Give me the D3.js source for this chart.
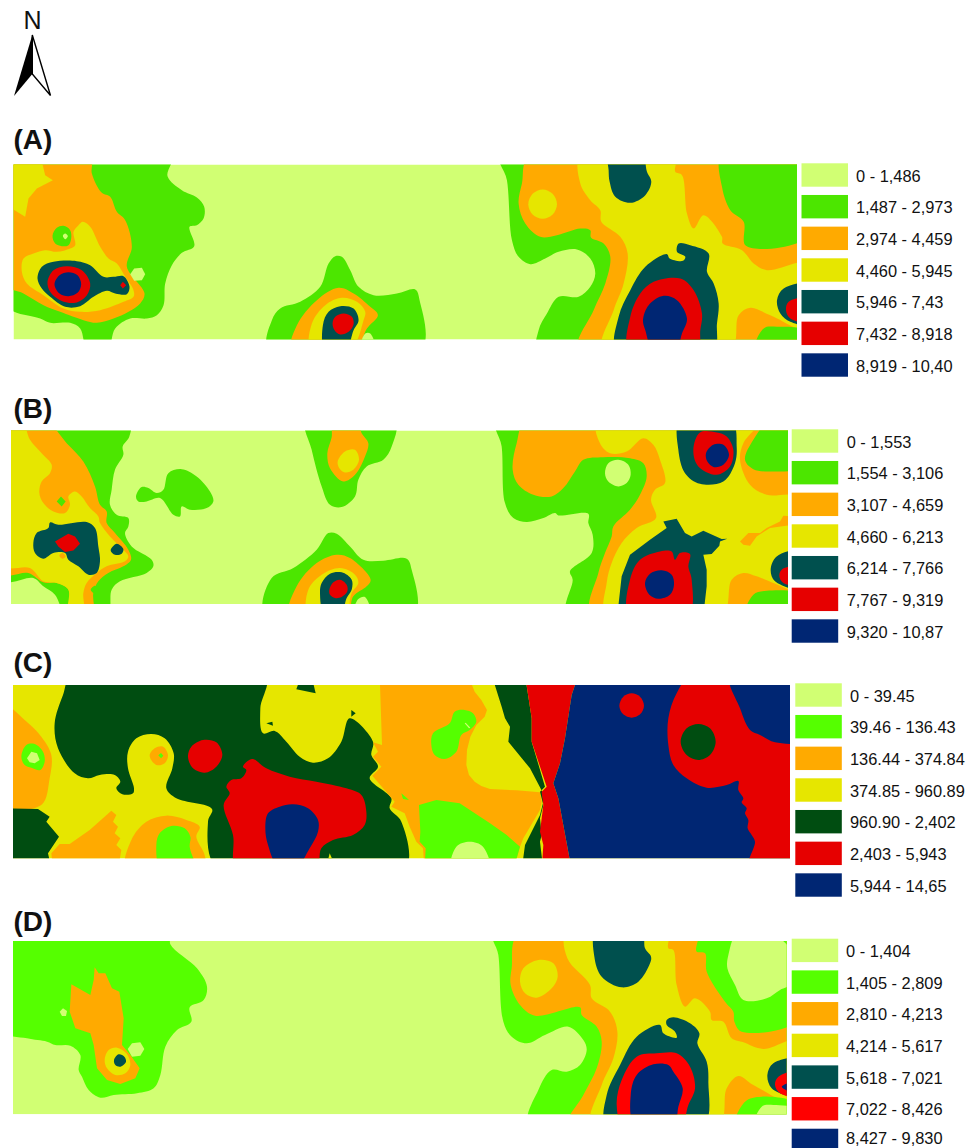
<!DOCTYPE html>
<html>
<head>
<meta charset="utf-8">
<script src="https://cdn.jsdelivr.net/npm/d3@7"></script>
<style>
html, body { margin: 0; background: #fff; overflow: hidden; }
text { font-family: "Liberation Sans", Arial, sans-serif; fill: #111; }
</style>
</head>
<body>
<svg id="canvas"></svg>
<script>
const width = 978;
const height = 1148;

// legend classes
const classesA = ["0 - 1,486", "1,487 - 2,973", "2,974 - 4,459", "4,460 - 5,945", "5,946 - 7,43", "7,432 - 8,918", "8,919 - 10,40"];
const classesB = ["0 - 1,553", "1,554 - 3,106", "3,107 - 4,659", "4,660 - 6,213", "6,214 - 7,766", "7,767 - 9,319", "9,320 - 10,87"];
const classesC = ["0 - 39.45", "39.46 - 136.43", "136.44 - 374.84", "374.85 - 960.89", "960.90 - 2,402", "2,403 - 5,943", "5,944 - 14,65"];
const classesD = ["0 - 1,404", "1,405 - 2,809", "2,810 - 4,213", "4,214 - 5,617", "5,618 - 7,021", "7,022 - 8,426", "8,427 - 9,830"];

const paletteAB = ["#d1ff73", "#4ce600", "#ffaa00", "#e6e600", "#00504e", "#e60000", "#002673"];
const paletteC = ["#d1ff73", "#55ff00", "#ffaa00", "#e6e600", "#004d11", "#e60000", "#002673"];
const paletteD = ["#d1ff73", "#55ff00", "#ffaa00", "#e6e600", "#00504e", "#ff0000", "#002673"];

// class zones: [class index, outline in map units, straight edges?]. Painted in order, later on top.
const zonesA = [
  [1, [[0,0],[475,0],[462,35],[505,77],[550,99],[572,127],[570,162],[550,182],[528,187],[542,245],[505,265],[475,302],[455,357],[450,422],[430,452],[400,462],[350,462],[305,492],[282,525],[222,525],[200,492],[170,475],[110,475],[80,462],[0,417]]],
  [2, [[0,0],[232,0],[235,27],[265,85],[290,97],[310,142],[335,167],[355,247],[340,307],[393,387],[380,417],[345,442],[300,462],[250,475],[210,467],[140,442],[90,422],[30,387],[0,357]]],
  [3, [[0,0],[80,0],[95,32],[118,47],[70,72],[45,102],[35,157],[0,117]], true],
  [3, [[208,172],[230,187],[260,247],[285,282],[310,297],[335,337],[360,377],[360,397],[330,412],[260,437],[200,442],[150,432],[90,392],[40,357],[25,322],[30,282],[60,267],[95,257],[130,262],[170,252],[185,242],[180,202],[195,182]]],
  [1, [[117,214],[130,190],[150,184],[170,197],[173,222],[165,242],[145,245],[125,237]]],
  [0, [[148,214],[155,207],[163,215],[155,224]]],
  [0, [[350,329],[362,312],[385,310],[395,329],[385,347],[362,349]], true],
  [4, [[72,342],[85,307],[120,292],[190,290],[230,302],[270,337],[300,337],[330,335],[348,367],[340,389],[305,387],[280,379],[240,397],[200,425],[155,427],[110,397],[85,372]]],
  [5, [[102,352],[120,317],[160,305],[205,317],[230,357],[220,392],[185,415],[140,407],[110,382]]],
  [6, [[123,359],[138,332],[165,323],[192,332],[203,359],[192,385],[165,395],[138,387]]],
  [5, [[320,362],[328,352],[338,362],[328,372]], true],
  [1, [[765,525],[775,467],[800,432],[860,412],[920,367],[945,297],[965,275],[985,277],[1010,317],[1035,367],[1080,392],[1150,387],[1205,375],[1218,407],[1223,525]]],
  [2, [[835,525],[850,482],[910,407],[975,370],[1020,387],[1070,427],[1093,452],[1060,492],[1025,525]]],
  [3, [[892,525],[895,477],[935,422],[985,400],[1030,412],[1055,442],[1050,467],[1010,525]]],
  [4, [[935,530],[928,482],[945,442],[980,425],[1020,432],[1035,467],[1020,497],[995,530]]],
  [5, [[957,477],[965,457],[990,447],[1015,457],[1020,479],[1005,502],[980,510],[963,497]]],
  [0, [[1040,530],[1055,507],[1070,507],[1085,530]]],
  [1, [[1460,0],[1480,47],[1495,227],[1515,277],[1550,299],[1595,282],[1635,262],[1690,255],[1730,282],[1745,327],[1730,367],[1695,397],[1635,397],[1600,447],[1575,497],[1575,530],[2360,530],[2360,0]]],
  [2, [[1550,0],[1525,57],[1515,117],[1535,177],[1580,217],[1630,212],[1700,192],[1730,197],[1732,219],[1770,237],[1790,277],[1775,357],[1740,437],[1695,530],[2360,530],[2360,0]]],
  [1, [[2125,0],[2125,67],[2150,137],[2190,172],[2197,244],[2360,212],[2360,0]]],
  [3, [[1702,0],[1700,57],[1730,107],[1760,137],[1763,172],[1820,217],[1842,267],[1830,357],[1800,437],[1767,530],[2150,530],[2175,452],[2210,430],[2270,452],[2360,497],[2360,297],[2260,317],[2220,297],[2185,257],[2127,237],[2125,217],[2070,152],[2040,192],[2020,147],[2005,32],[1985,22],[1985,0]]],
  [3, [[1544,119],[1557,88],[1587,75],[1617,88],[1630,119],[1617,150],[1587,163],[1557,150]]],
  [1, [[2225,530],[2250,492],[2290,487],[2360,502],[2360,530]]],
  [0, [[2335,530],[2360,505],[2360,530]], true],
  [4, [[1785,0],[1785,17],[1788,52],[1805,97],[1850,115],[1895,92],[1913,52],[1900,22],[1885,0]]],
  [4, [[1810,530],[1815,457],[1850,377],[1895,307],[1960,269],[1968,282],[2008,289],[2015,277],[1990,262],[1995,237],[2030,242],[2085,267],[2080,322],[2100,357],[2115,417],[2110,477],[2098,530]]],
  [5, [[1847,530],[1850,457],[1880,387],[1920,352],[2000,342],[2040,377],[2065,447],[2060,497],[2050,530]]],
  [6, [[1888,467],[1905,422],[1950,394],[1990,407],[2020,462],[2005,507],[1985,530],[1920,530],[1895,497]]],
  [4, [[2360,360],[2310,372],[2290,407],[2300,447],[2330,472],[2360,479]]],
  [5, [[2360,402],[2325,412],[2317,437],[2330,462],[2360,472]]],
  [6, [[2360,437],[2342,445],[2360,455]], true]
];

const zonesB = [
  [1, [[0,0],[355,0],[355,18],[335,48],[337,73],[312,118],[302,178],[297,223],[317,253],[352,263],[352,288],[342,308],[362,348],[422,388],[427,408],[407,428],[327,453],[302,478],[289,525],[167,525],[132,493],[97,468],[67,443],[0,450]]],
  [2, [[0,0],[102,0],[167,38],[217,93],[252,168],[267,223],[287,243],[287,278],[312,308],[352,358],[360,388],[337,408],[292,428],[262,453],[247,488],[245,525],[177,525],[172,478],[137,458],[97,456],[52,428],[0,430]]],
  [3, [[0,0],[32,0],[57,28],[92,68],[122,103],[117,128],[92,153],[85,188],[97,218],[127,243],[162,248],[177,223],[172,198],[192,183],[212,198],[237,233],[262,258],[267,278],[297,318],[337,358],[352,378],[342,393],[287,408],[257,428],[227,458],[217,488],[217,525],[172,525],[172,478],[137,458],[97,453],[57,413],[0,405]]],
  [1, [[137,213],[150,198],[164,213],[152,228]], true],
  [1, [[239,478],[252,466],[262,478],[252,490]]],
  [4, [[67,338],[77,308],[112,293],[117,276],[142,283],[227,275],[252,293],[262,348],[267,393],[257,428],[232,433],[202,408],[172,388],[162,368],[127,368],[97,385],[72,368]]],
  [5, [[132,333],[172,310],[192,318],[207,340],[187,360],[162,365],[142,348]], true],
  [2, [[145,376],[154,368],[164,378],[154,385]]],
  [4, [[299,360],[317,340],[337,356],[332,370],[312,373]]],
  [1, [[375,198],[392,170],[412,173],[437,188],[457,178],[472,128],[512,116],[557,138],[597,183],[607,213],[587,233],[537,238],[512,228],[507,258],[487,253],[447,203],[407,213],[382,213]]],
  [1, [[885,0],[1152,0],[1142,48],[1117,88],[1067,108],[1042,148],[1032,198],[992,230],[957,223],[932,168],[902,58]]],
  [2, [[967,0],[962,20],[949,68],[957,113],[997,153],[1032,133],[1062,78],[1072,38],[1052,8],[1037,0]]],
  [3, [[980,93],[1002,63],[1032,58],[1044,88],[1027,118],[1002,126],[985,113]]],
  [1, [[762,525],[782,443],[847,413],[917,358],[952,308],[977,310],[1017,348],[1057,388],[1117,391],[1187,385],[1202,418],[1209,525]]],
  [2, [[835,525],[857,468],[917,398],[977,373],[1017,383],[1079,448],[1067,468],[1027,498],[1007,525]]],
  [3, [[892,525],[892,478],[932,433],[987,413],[1032,433],[1042,458],[1022,488],[1002,525]]],
  [4, [[942,530],[927,488],[932,458],[957,430],[992,426],[1022,448],[1022,478],[1007,503],[987,530]]],
  [5, [[955,478],[967,456],[987,448],[1007,463],[1009,483],[992,500],[972,503],[957,493]]],
  [0, [[1027,530],[1042,506],[1062,500],[1079,530]]],
  [1, [[1457,0],[1472,48],[1482,218],[1507,263],[1547,275],[1597,263],[1632,248],[1642,255],[1732,250],[1732,278],[1745,313],[1742,368],[1677,423],[1685,448],[1669,530],[2340,530],[2340,0]]],
  [2, [[1547,0],[1517,38],[1505,118],[1522,163],[1567,193],[1622,198],[1657,173],[1692,123],[1717,88],[1777,80],[1857,83],[1897,98],[1907,138],[1887,193],[1857,238],[1807,288],[1802,318],[1782,368],[1762,428],[1742,530],[2340,530],[2340,0]]],
  [3, [[1759,0],[1767,38],[1797,68],[1847,63],[1897,23],[1927,43],[1947,88],[1962,158],[1932,178],[1920,208],[1935,263],[1877,293],[1832,338],[1802,398],[1787,458],[1787,530],[2132,530],[2162,448],[2197,428],[2237,438],[2332,488],[2340,488],[2340,203],[2267,193],[2217,163],[2187,88],[2197,38],[2242,0]]],
  [1, [[2202,88],[2227,28],[2277,0],[2340,0],[2340,108],[2287,123],[2227,116]]],
  [2, [[2187,333],[2212,308],[2247,308],[2267,293],[2307,273],[2317,256],[2340,258],[2340,280],[2277,293],[2237,318],[2217,346],[2197,343]], true],
  [0, [[1782,128],[1792,98],[1822,88],[1852,103],[1859,133],[1847,158],[1822,168],[1792,153]]],
  [4, [[2007,0],[2002,58],[2022,128],[2067,160],[2137,153],[2172,98],[2177,48],[2162,0]]],
  [5, [[2067,6],[2047,58],[2062,108],[2117,133],[2157,108],[2167,58],[2147,18],[2117,6]]],
  [6, [[2085,68],[2107,43],[2137,43],[2154,73],[2137,103],[2109,110],[2089,93]]],
  [4, [[1819,525],[1832,438],[1857,373],[1917,328],[1967,293],[1957,273],[1997,265],[2022,308],[2042,318],[2077,301],[2132,326],[2149,325],[2127,333],[2125,346],[2102,371],[2077,373],[2087,418],[2087,468],[2077,525]], true],
  [5, [[1855,525],[1857,448],[1887,388],[1947,363],[1982,363],[1992,388],[2007,368],[2037,371],[2032,408],[2042,448],[2032,525]]],
  [6, [[1902,458],[1917,430],[1952,420],[1982,433],[1989,463],[1977,493],[1942,505],[1915,493]]],
  [4, [[2340,363],[2297,378],[2279,418],[2292,453],[2340,473]]],
  [5, [[2340,408],[2312,418],[2305,438],[2317,458],[2340,463]]],
  [1, [[2205,525],[2227,493],[2267,481],[2340,493],[2340,525]]],
  [0, [[2312,525],[2340,501],[2340,525]], true]
];

const zonesC = [
  [3, [[0,0],[2340,0],[2340,525],[0,525]], true],
  [4, [[178,0],[150,30],[125,115],[135,190],[185,265],[225,280],[260,270],[305,270],[322,290],[310,310],[328,328],[360,325],[363,310],[345,250],[345,200],[370,160],[415,147],[455,160],[482,205],[478,250],[460,310],[490,340],[597,372],[585,410],[615,525],[1175,525],[1165,410],[1130,370],[1135,340],[1070,280],[1095,245],[1075,210],[1080,170],[1010,100],[985,170],[945,220],[900,233],[860,215],[820,170],[785,138],[750,145],[742,70],[757,0]]],
  [2, [[0,60],[35,105],[85,155],[115,210],[110,280],[85,360],[0,360]]],
  [1, [[25,215],[40,180],[65,177],[90,200],[95,230],[82,255],[55,248],[35,240]]],
  [0, [[42,220],[55,200],[72,205],[80,225],[65,235],[50,232]], true],
  [4, [[0,370],[75,372],[110,395],[100,410],[138,455],[105,505],[115,520],[115,525],[0,525]], true],
  [2, [[120,525],[115,505],[140,477],[170,477],[230,435],[295,377],[310,390],[300,410],[315,425],[305,445],[322,460],[310,480],[325,495],[315,525]], true],
  [2, [[340,525],[355,465],[400,410],[460,392],[520,405],[560,425],[550,455],[575,510],[575,525]]],
  [1, [[430,480],[440,445],[475,423],[515,430],[532,455],[530,485],[545,525],[445,525]]],
  [2, [[410,212],[425,190],[450,185],[465,210],[455,235],[430,240]]],
  [1, [[436,211],[444,204],[451,212],[444,220]], true],
  [5, [[525,215],[535,185],[570,165],[610,172],[628,210],[610,245],[575,263],[540,250]]],
  [5, [[717,222],[760,250],[830,275],[910,290],[1000,310],[1045,330],[1060,380],[1055,420],[1020,450],[960,465],[925,490],[908,525],[672,525],[660,450],[632,360],[650,325],[640,305],[655,285],[685,280],[700,255],[690,245]]],
  [6, [[757,430],[765,385],[800,365],[840,358],[885,370],[915,405],[915,440],[890,490],[845,525],[800,525],[765,480]]],
  [3, [[938,525],[950,505],[972,525]], true],
  [4, [[850,13],[865,0],[895,0],[908,25]], true],
  [4, [[760,115],[778,110],[780,122]], true],
  [4, [[1015,75],[1028,85],[1015,95]], true],
  [2, [[1100,0],[1365,0],[1385,20],[1405,45],[1422,75],[1415,95],[1390,120],[1372,155],[1362,195],[1360,240],[1368,270],[1385,290],[1405,303],[1431,312],[1510,316],[1581,322],[1586,350],[1581,375],[1531,460],[1521,485],[1501,525],[1235,525],[1230,490],[1210,470],[1190,425],[1175,385],[1135,365],[1145,350],[1078,272],[1105,245],[1080,215],[1095,200],[1080,172],[1107,180]], true],
  [1, [[1218,360],[1270,345],[1340,355],[1431,415],[1481,450],[1521,485],[1501,525],[1235,525],[1238,490],[1220,470],[1222,440]], true],
  [0, [[1315,530],[1330,485],[1370,470],[1410,485],[1430,530]]],
  [1, [[1255,180],[1260,145],[1310,115],[1325,80],[1355,75],[1380,85],[1390,110],[1370,135],[1345,150],[1330,200],[1295,222],[1265,210]]],
  [0, [[1355,115],[1358,113],[1372,128],[1368,130]], true],
  [1, [[1165,325],[1188,345],[1170,342]], true],
  [4, [[1436,0],[1536,0],[1556,100],[1556,170],[1596,305],[1581,320],[1591,360],[1581,400],[1586,450],[1581,470],[1591,525],[1526,525],[1536,480],[1581,390],[1591,350],[1588,320],[1551,250],[1486,170],[1491,125],[1476,100],[1466,65]], true],
  [5, [[1536,0],[1696,0],[1676,30],[1656,160],[1641,235],[1621,295],[1636,340],[1676,525],[1586,525],[1591,480],[1581,440],[1586,400],[1591,360],[1586,320],[1601,305],[1556,170],[1556,100]], true],
  [6, [[1696,0],[2340,0],[2340,525],[1676,525],[1636,340],[1621,295],[1641,235],[1656,160],[1676,30]], true],
  [5, [[2036,0],[1991,25],[1966,100],[1966,180],[1981,240],[2021,280],[2081,308],[2141,300],[2176,288],[2176,315],[2191,340],[2186,352],[2201,370],[2196,385],[2206,405],[2204,430],[2216,450],[2226,470],[2206,525],[2340,525],[2340,0]]],
  [6, [[2151,0],[2181,70],[2211,135],[2241,150],[2286,172],[2340,165],[2340,0]]],
  [5, [[1819,62],[1831,35],[1856,25],[1881,35],[1893,62],[1881,88],[1856,98],[1831,88]]],
  [4, [[2003,170],[2021,130],[2056,117],[2091,130],[2108,170],[2091,210],[2056,225],[2021,210]]]
];

const zonesD = [
  [1, [[0,0],[472,0],[472,10],[552,82],[582,137],[572,177],[530,199],[535,242],[492,267],[457,317],[442,402],[422,442],[372,457],[302,462],[262,470],[227,447],[207,407],[197,387],[202,342],[172,314],[127,312],[102,302],[42,292],[0,270]]],
  [2, [[245,79],[257,97],[277,97],[297,142],[319,152],[332,232],[327,312],[352,342],[380,382],[367,412],[322,429],[282,417],[252,382],[242,312],[232,277],[187,262],[170,212],[175,130],[232,162],[242,117]], true],
  [0, [[344,324],[357,307],[382,304],[394,324],[382,344],[357,347]], true],
  [0, [[140,212],[150,202],[162,210],[159,225],[147,225]], true],
  [3, [[275,357],[287,327],[312,320],[340,337],[352,372],[337,397],[307,402],[282,382]]],
  [4, [[303,357],[317,340],[334,347],[339,362],[322,377],[307,372]]],
  [1, [[1441,0],[1456,42],[1471,242],[1496,287],[1541,307],[1596,282],[1666,257],[1711,297],[1721,327],[1701,372],[1661,392],[1616,387],[1576,447],[1549,525],[2330,525],[2330,0]]],
  [2, [[1521,0],[1496,82],[1493,132],[1521,192],[1566,224],[1701,199],[1706,222],[1751,257],[1766,302],[1751,382],[1711,462],[1666,525],[2330,525],[2330,0]]],
  [1, [[2076,0],[2051,12],[2051,32],[2076,37],[2081,92],[2136,182],[2161,212],[2164,242],[2186,272],[2330,234],[2330,0]]],
  [0, [[2176,0],[2146,42],[2143,82],[2166,132],[2191,177],[2261,172],[2301,147],[2330,117],[2330,62],[2266,0]]],
  [3, [[1661,0],[1663,52],[1731,132],[1736,172],[1791,212],[1813,272],[1801,352],[1766,432],[1736,525],[2116,525],[2141,442],[2176,405],[2221,432],[2330,490],[2330,297],[2251,324],[2191,304],[2156,292],[2131,242],[2096,237],[2091,212],[2046,172],[2016,197],[1991,132],[1981,27],[1966,22],[1963,0]]],
  [3, [[1521,122],[1531,82],[1576,57],[1621,67],[1634,107],[1616,142],[1571,170],[1536,157]]],
  [4, [[1749,0],[1744,47],[1766,107],[1826,139],[1876,122],[1911,67],[1914,47],[1896,22],[1886,0]]],
  [4, [[1781,525],[1781,462],[1821,372],[1871,287],[1941,252],[1951,277],[1991,290],[1986,272],[1961,252],[1961,237],[1981,229],[2031,247],[2059,277],[2053,307],[2081,362],[2086,422],[2071,525]]],
  [5, [[1831,525],[1811,492],[1826,417],[1871,347],[1931,337],[1991,337],[2031,377],[2046,442],[2026,492],[2001,525]]],
  [6, [[1866,525],[1853,462],[1871,402],[1921,370],[1966,372],[1981,392],[2009,442],[1996,497],[1981,525]]],
  [4, [[2330,355],[2281,367],[2263,402],[2276,442],[2311,470],[2330,472]]],
  [5, [[2330,392],[2296,407],[2286,432],[2301,457],[2330,467]]],
  [6, [[2330,422],[2306,437],[2311,457],[2330,462]]],
  [1, [[2168,525],[2196,482],[2246,467],[2330,492],[2330,525]]],
  [0, [[2226,525],[2246,497],[2281,492],[2330,507],[2330,525]]]
];

const panels = [
  { id: "A", classes: classesA, colors: paletteAB, zones: zonesA, mapW: 2350, mapH: 525, px: [13.5, 797], py: [164.5, 339.5], labelY: 149, legX: 801.5, legY: 163.3, txtX: 856 },
  { id: "B", classes: classesB, colors: paletteAB, zones: zonesB, mapW: 2331, mapH: 521, px: [11, 788], py: [430.5, 604], labelY: 417.5, legX: 791.7, legY: 429.3, txtX: 846.7 },
  { id: "C", classes: classesC, colors: paletteC, zones: zonesC, mapW: 2331, mapH: 520, px: [13, 790], py: [685, 858.3], labelY: 672, legX: 795.3, legY: 683.3, txtX: 850 },
  { id: "D", classes: classesD, colors: paletteD, zones: zonesD, mapW: 2321, mapH: 520, px: [13, 786.7], py: [941, 1114.3], labelY: 930.5, legX: 791.7, legY: 938.7, txtX: 846 }
];

const svg = d3.select("#canvas")
    .attr("width", width)
    .attr("height", height);

const defs = svg.append("defs");

panels.forEach(p => {
    const x = d3.scaleLinear().domain([0, p.mapW]).range(p.px);
    const y = d3.scaleLinear().domain([0, p.mapH]).range(p.py);

    // points on the map border get pushed outside so the smoothing can't pull a zone off the edge
    const outX = v => v <= 0 ? v - 30 : v >= p.mapW - 12 ? v + 30 : v;
    const outY = v => v <= 0 ? v - 30 : v >= p.mapH - 1 ? v + 30 : v;
    const smooth = d3.line().x(d => x(outX(d[0]))).y(d => y(outY(d[1]))).curve(d3.curveCatmullRomClosed.alpha(0.5));
    const sharp = d3.line().x(d => x(outX(d[0]))).y(d => y(outY(d[1]))).curve(d3.curveLinearClosed);

    defs.append("clipPath").attr("id", "clip" + p.id)
        .append("rect")
        .attr("x", p.px[0]).attr("y", p.py[0])
        .attr("width", p.px[1] - p.px[0]).attr("height", p.py[1] - p.py[0]);

    const g = svg.append("g").attr("clip-path", `url(#clip${p.id})`);

    g.append("rect")
        .attr("x", p.px[0]).attr("y", p.py[0])
        .attr("width", p.px[1] - p.px[0]).attr("height", p.py[1] - p.py[0])
        .attr("fill", p.colors[0]);

    g.selectAll("path")
        .data(p.zones)
        .enter()
        .append("path")
        .attr("d", d => (d[2] ? sharp : smooth)(d[1]))
        .attr("fill", d => p.colors[d[0]]);

    svg.append("text")
        .attr("x", 13.5)
        .attr("y", p.labelY)
        .attr("font-size", 28)
        .attr("font-weight", "bold")
        .text(`(${p.id})`);

    // legend
    const row = d3.scaleLinear().domain([0, 1]).range([p.legY, p.legY + 31.67]);
    const legend = svg.append("g");
    legend.selectAll("rect")
        .data(p.classes)
        .enter()
        .append("rect")
        .attr("x", p.legX)
        .attr("y", (d, i) => row(i))
        .attr("width", 46.5)
        .attr("height", 23.4)
        .attr("fill", (d, i) => p.colors[i]);
    legend.selectAll("text")
        .data(p.classes)
        .enter()
        .append("text")
        .attr("x", p.txtX)
        .attr("y", (d, i) => Math.min(row(i) + 18.4, height - 4))
        .attr("font-size", 16.4)
        .text(d => d);
});

// North arrow
const north = svg.append("g");
north.append("text")
    .attr("x", 32.5).attr("y", 29)
    .attr("text-anchor", "middle")
    .attr("font-size", 25)
    .text("N");
north.append("path")
    .attr("d", "M32.3,35 L50.5,95.5 L32.3,74 Z")
    .attr("fill", "#fff").attr("stroke", "#000").attr("stroke-width", 1.4).attr("stroke-linejoin", "miter");
north.append("path")
    .attr("d", "M32.3,35 L14,96 L32.3,74 Z")
    .attr("fill", "#000");
</script>
</body>
</html>
